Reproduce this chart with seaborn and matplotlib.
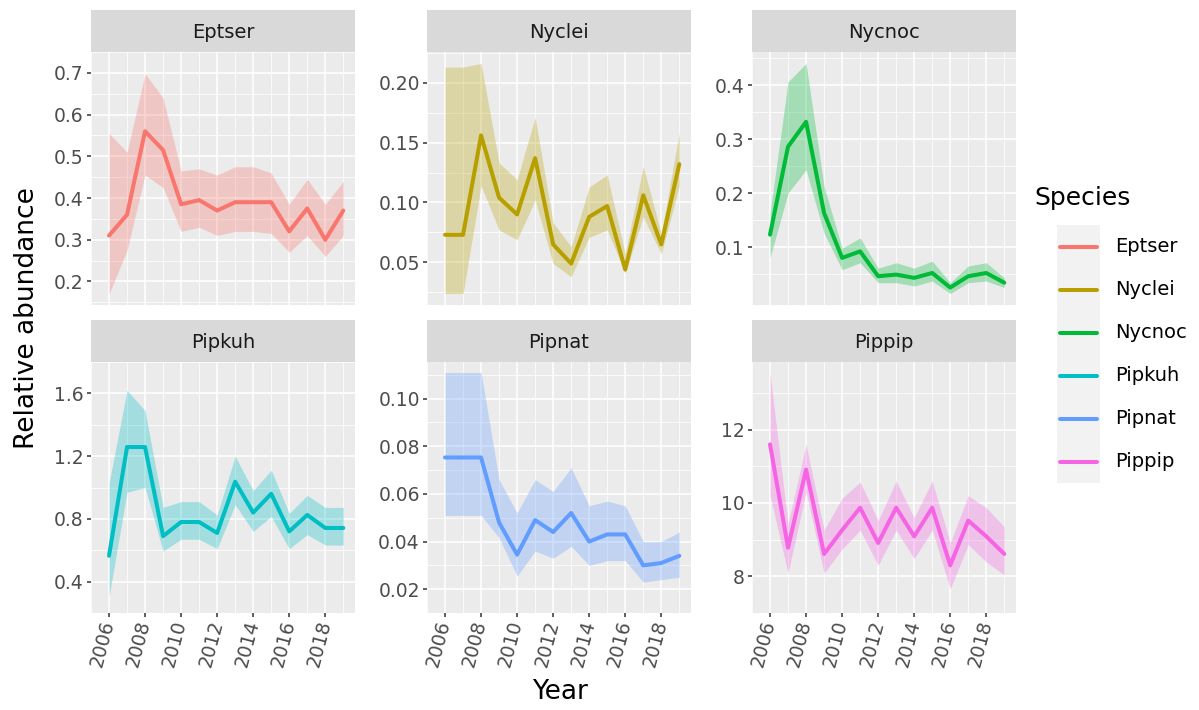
import numpy as np
import pandas as pd
import matplotlib
matplotlib.use("Agg")
import matplotlib.pyplot as plt
import seaborn as sns

# ---------------- data ----------------
years = list(range(2006, 2020))
species = ["Eptser", "Nyclei", "Nycnoc", "Pipkuh", "Pipnat", "Pippip"]
colors = ["#F8766D", "#B79F00", "#00BA38", "#00BFC4", "#619CFF", "#F564E3"]

eptser_mean = [0.31, 0.36, 0.56, 0.515, 0.385, 0.395, 0.37, 0.39, 0.39, 0.39, 0.32, 0.375, 0.30, 0.37]
eptser_upper = [0.555, 0.51, 0.698, 0.64, 0.465, 0.47, 0.455, 0.475, 0.475, 0.46, 0.385, 0.445, 0.385, 0.44]
eptser_lower = [0.17, 0.275, 0.455, 0.425, 0.32, 0.33, 0.31, 0.32, 0.32, 0.315, 0.27, 0.31, 0.26, 0.31]

nyclei_mean = [0.073, 0.073, 0.156, 0.104, 0.090, 0.137, 0.065, 0.049, 0.088, 0.097, 0.044, 0.106, 0.065, 0.132]
nyclei_upper = [0.213, 0.213, 0.216, 0.133, 0.119, 0.171, 0.083, 0.063, 0.113, 0.123, 0.057, 0.130, 0.074, 0.158]
nyclei_lower = [0.024, 0.024, 0.114, 0.077, 0.069, 0.102, 0.049, 0.038, 0.071, 0.077, 0.041, 0.088, 0.057, 0.114]

nycnoc_mean = [0.123, 0.286, 0.332, 0.163, 0.080, 0.092, 0.046, 0.049, 0.043, 0.052, 0.025, 0.046, 0.052, 0.034]
nycnoc_upper = [0.163, 0.406, 0.44, 0.212, 0.098, 0.117, 0.061, 0.071, 0.061, 0.074, 0.034, 0.065, 0.071, 0.043]
nycnoc_lower = [0.080, 0.200, 0.243, 0.126, 0.058, 0.071, 0.034, 0.034, 0.028, 0.037, 0.014, 0.034, 0.037, 0.025]

pipkuh_mean = [0.565, 1.258, 1.258, 0.69, 0.78, 0.78, 0.71, 1.037, 0.84, 0.96, 0.72, 0.825, 0.742, 0.742]
pipkuh_upper = [1.027, 1.62, 1.49, 0.873, 0.91, 0.91, 0.825, 1.2, 0.98, 1.11, 0.835, 0.95, 0.873, 0.873]
pipkuh_lower = [0.305, 0.97, 1.0, 0.595, 0.67, 0.67, 0.61, 0.89, 0.72, 0.815, 0.61, 0.70, 0.633, 0.633]

pipnat_mean = [0.0753, 0.0753, 0.0753, 0.048, 0.0345, 0.049, 0.044, 0.052, 0.040, 0.043, 0.043, 0.030, 0.031, 0.034]
pipnat_upper = [0.111, 0.111, 0.111, 0.066, 0.052, 0.066, 0.061, 0.071, 0.055, 0.057, 0.055, 0.040, 0.040, 0.044]
pipnat_lower = [0.051, 0.051, 0.051, 0.0416, 0.0255, 0.036, 0.033, 0.038, 0.030, 0.032, 0.032, 0.023, 0.024, 0.025]

pippip_mean = [11.6, 8.78, 10.91, 8.61, 9.26, 9.87, 8.91, 9.87, 9.09, 9.87, 8.30, 9.52, 9.09, 8.61]
pippip_upper = [13.55, 9.43, 11.6, 9.26, 10.13, 10.57, 9.52, 10.6, 9.6, 10.6, 8.91, 10.2, 9.87, 9.35]
pippip_lower = [10.2, 8.09, 10.3, 8.09, 8.74, 9.26, 8.3, 9.26, 8.48, 9.26, 7.66, 8.87, 8.39, 8.04]

means = [eptser_mean, nyclei_mean, nycnoc_mean, pipkuh_mean, pipnat_mean, pippip_mean]
uppers = [eptser_upper, nyclei_upper, nycnoc_upper, pipkuh_upper, pipnat_upper, pippip_upper]
lowers = [eptser_lower, nyclei_lower, nycnoc_lower, pipkuh_lower, pipnat_lower, pippip_lower]

xtick_years = [2006, 2008, 2010, 2012, 2014, 2016, 2018]
ytick_labels = [
    ["0.2", "0.3", "0.4", "0.5", "0.6", "0.7"],
    ["0.05", "0.10", "0.15", "0.20"],
    ["0.1", "0.2", "0.3", "0.4"],
    ["0.4", "0.8", "1.2", "1.6"],
    ["0.02", "0.04", "0.06", "0.08", "0.10"],
    ["8", "10", "12"],
]

rows = []
for sp, m, u, l in zip(species, means, uppers, lowers):
    for y, mv, uv, lv in zip(years, m, u, l):
        rows.append({"Species": sp, "Year": y, "Abundance": mv, "Upper": uv, "Lower": lv})
df = pd.DataFrame(rows)

# ---------------- style ----------------
sns.set_theme(style="white")
plt.rcParams["font.family"] = ["DejaVu Sans"]

W, H = 1199, 710
fig = plt.figure(figsize=(W / 100, H / 100), dpi=100)

PANEL_BG = "#EBEBEB"
STRIP_BG = "#D9D9D9"

col_left = [91, 427, 752]
col_w = 264
row_plot = [(52, 305), (362, 613)]
strip_h = 42


def fx(px):
    return px / W


def fy(py):
    return 1 - py / H


for i, sp in enumerate(species):
    r, c = divmod(i, 3)
    top, bot = row_plot[r]
    ax = fig.add_axes([fx(col_left[c]), fy(bot), fx(col_w), (bot - top) / H])
    sax = fig.add_axes([fx(col_left[c]), fy(top), fx(col_w), strip_h / H])

    sub = df[df["Species"] == sp]
    ax.set_facecolor(PANEL_BG)
    ax.fill_between(sub["Year"], sub["Lower"], sub["Upper"], color=colors[i], alpha=0.3,
                    linewidth=0, zorder=2)
    sns.lineplot(data=sub, x="Year", y="Abundance", color=colors[i], linewidth=2.9,
                 ax=ax, legend=False, zorder=3)

    lo = sub["Lower"].min()
    hi = sub["Upper"].max()
    pad = (hi - lo) * 0.05
    ax.set_ylim(lo - pad, hi + pad)
    ax.set_xlim(2006 - 13 * 0.05, 2019 + 13 * 0.05)

    yt = [float(t) for t in ytick_labels[i]]
    ax.set_yticks(yt)
    ax.set_yticklabels(ytick_labels[i])
    step = yt[1] - yt[0]
    ax.set_yticks([v + step / 2 for v in [yt[0] - step] + yt], minor=True)
    ax.set_xticks(xtick_years)
    ax.set_xticklabels([str(y) for y in xtick_years], rotation=75, ha="right",
                       va="center", rotation_mode="anchor")
    ax.set_xticks([y + 1 for y in [xtick_years[0] - 2] + xtick_years], minor=True)

    ax.grid(which="major", color="white", linewidth=1.1, zorder=0)
    ax.grid(which="minor", color="white", linewidth=0.55, zorder=0)
    ax.set_axisbelow(True)
    for s in ax.spines.values():
        s.set_visible(False)
    ax.tick_params(axis="both", which="major", length=3.2, width=1.1, color="#333333",
                   labelcolor="#4D4D4D", labelsize=13.5, pad=2, left=True, bottom=True)
    ax.tick_params(axis="both", which="minor", length=0)
    ax.set_xlabel("")
    ax.set_ylabel("")
    if r == 0:
        ax.tick_params(axis="x", which="major", length=0, labelbottom=False)

    sax.set_facecolor(STRIP_BG)
    sax.set_xticks([])
    sax.set_yticks([])
    for s in sax.spines.values():
        s.set_visible(False)
    sax.text(0.5, 0.47, sp, transform=sax.transAxes, ha="center", va="center",
             fontsize=14, color="#1A1A1A")

# axis titles
fig.text(fx(560), fy(692), "Year", ha="center", va="center", fontsize=19, color="black")
fig.text(fx(27), fy(318), "Relative abundance", ha="center", va="center", rotation=90,
         fontsize=19, color="black")

# legend
lax = fig.add_axes([fx(1057), fy(483), fx(43), 258 / H])
lax.set_facecolor("#F2F2F2")
lax.set_xlim(0, 1)
lax.set_ylim(len(species), 0)
for s in lax.spines.values():
    s.set_visible(False)
lax.set_xticks([])
lax.set_yticks([])
for k, (sp, colr) in enumerate(zip(species, colors)):
    lax.plot([0.08, 0.92], [k + 0.5, k + 0.5], color=colr, linewidth=2.9)
    lax.text(1.35, k + 0.5, sp, ha="left", va="center", fontsize=14, color="black",
             clip_on=False)
fig.text(fx(1034), fy(198), "Species", ha="left", va="center", fontsize=18, color="black")

fig.savefig("out.png", dpi=100, facecolor="white")
